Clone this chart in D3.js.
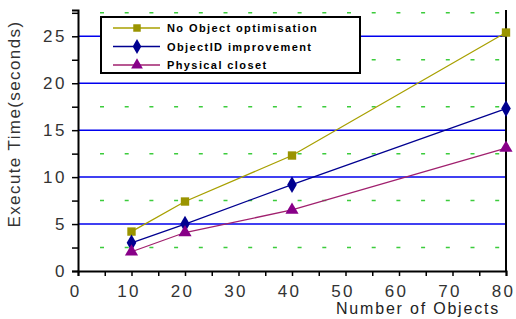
<!DOCTYPE html>
<html>
<head>
<meta charset="utf-8">
<script src="https://cdn.jsdelivr.net/npm/d3@7"></script>
<style>
  body { margin: 0; background: #fff; }
  svg { display: block; font-family: Arial, "Liberation Sans", sans-serif; }
</style>
</head>
<body>
<div id="chart-area"></div>
<script>
// data
const objects = [10, 20, 40, 80]
const noOpt = [4.2, 7.4, 12.3, 25.4]
const objectId = [3.0, 5.0, 9.2, 17.3]
const physical = [2.05, 4.1, 6.5, 13.1]
const seriesNames = ["No Object optimisation", "ObjectID improvement", "Physical closet"]
const xTicks = [0, 10, 20, 30, 40, 50, 60, 70, 80]
const yTicks = [0, 5, 10, 15, 20, 25]

const W = 516, H = 319
const LEFT = 78, RIGHT = 506, TOP = 10, BOTTOM = 271

const svg = d3.select("#chart-area").append("svg")
  .attr("width", W)
  .attr("height", H)

const x = d3.scaleLinear().domain([0, 80]).range([LEFT, RIGHT])
const y = d3.scaleLinear().domain([0, 27.8]).range([BOTTOM, TOP])

// green dashed grid (half steps)
const halfSteps = d3.range(2.5, 28, 5)
svg.append("g").selectAll("line")
  .data(halfSteps)
  .enter().append("line")
  .attr("x1", LEFT + 22).attr("x2", RIGHT)
  .attr("y1", d => y(d)).attr("y2", d => y(d))
  .attr("stroke", "#3ccc3c")
  .attr("stroke-width", 1.5)
  .attr("stroke-dasharray", "4 20.7")

// blue solid grid
svg.append("g").selectAll("line")
  .data(yTicks.slice(1))
  .enter().append("line")
  .attr("x1", LEFT).attr("x2", RIGHT)
  .attr("y1", d => y(d)).attr("y2", d => y(d))
  .attr("stroke", "#0000ee")
  .attr("stroke-width", 1.5)

// x axis
const xAxis = d3.axisBottom(x)
  .tickValues(d3.range(0, 81, 5))
  .tickSize(5)
  .tickFormat(d => xTicks.includes(d) ? d : "")
const gx = svg.append("g")
  .attr("transform", `translate(0, ${BOTTOM})`)
  .call(xAxis)
gx.select(".domain").attr("stroke", "#000").attr("stroke-width", 2)
gx.selectAll(".tick line").attr("stroke", "#000").attr("stroke-width", 1.5)
gx.selectAll("text")
  .attr("font-size", "17px")
  .attr("fill", "#333")
  .attr("letter-spacing", "2.2px")
  .attr("dx", "-3")
  .attr("dy", "1.05em")

// y axis
const yAxis = d3.axisLeft(y)
  .tickValues(d3.range(0, 28, 2.5))
  .tickSize(6)
  .tickFormat(d => yTicks.includes(d) ? d : "")
const gy = svg.append("g")
  .attr("transform", `translate(${LEFT}, 0)`)
  .call(yAxis)
gy.select(".domain").attr("stroke", "#000").attr("stroke-width", 2)
gy.selectAll(".tick line").attr("stroke", "#000").attr("stroke-width", 1.5)
gy.selectAll("text")
  .attr("font-size", "17px")
  .attr("fill", "#333")
  .attr("letter-spacing", "2.5px")
  .attr("x", -11)

// right frame line
svg.append("line")
  .attr("x1", RIGHT).attr("x2", RIGHT)
  .attr("y1", TOP).attr("y2", BOTTOM)
  .attr("stroke", "#000").attr("stroke-width", 2)

// axis labels
svg.append("text")
  .attr("x", 500)
  .attr("y", 314)
  .attr("text-anchor", "end")
  .attr("font-size", "16px")
  .attr("letter-spacing", "1.8px")
  .attr("fill", "#222")
  .text("Number of Objects")

svg.append("text")
  .attr("transform", "translate(20, 124) rotate(-90)")
  .attr("text-anchor", "middle")
  .attr("font-size", "17px")
  .attr("letter-spacing", "1.4px")
  .attr("fill", "#333")
  .text("Execute Time(seconds)")

// series
const series = [
  { name: seriesNames[0], values: noOpt, line: "#a8a000", mark: "#9a9400", sym: d3.symbolSquare, size: 70 },
  { name: seriesNames[1], values: objectId, line: "#000090", mark: "#000090", sym: d3.symbolDiamond, size: 80 },
  { name: seriesNames[2], values: physical, line: "#a0206e", mark: "#880088", sym: d3.symbolTriangle, size: 75 }
]

const line = d3.line()
  .x((d, i) => x(objects[i]))
  .y(d => y(d))

series.forEach(s => {
  svg.append("path")
    .attr("d", line(s.values))
    .attr("fill", "none")
    .attr("stroke", s.line)
    .attr("stroke-width", 1.3)

  svg.append("g").selectAll("path")
    .data(s.values)
    .enter().append("path")
    .attr("d", d3.symbol().type(s.sym).size(s.size))
    .attr("transform", (d, i) => `translate(${x(objects[i])}, ${y(d)})`)
    .attr("fill", s.mark)
})

// legend
const legend = svg.append("g")
legend.append("rect")
  .attr("x", 101).attr("y", 17)
  .attr("width", 259).attr("height", 56)
  .attr("fill", "#fff")
  .attr("stroke", "#000")
  .attr("stroke-width", 2)

series.forEach((s, i) => {
  const ly = 28 + i * 18.5
  legend.append("line")
    .attr("x1", 113).attr("x2", 160)
    .attr("y1", ly).attr("y2", ly)
    .attr("stroke", s.line)
    .attr("stroke-width", 1.3)
  legend.append("path")
    .attr("d", d3.symbol().type(s.sym).size(s.size * 0.8))
    .attr("transform", `translate(137, ${ly})`)
    .attr("fill", s.mark)
  legend.append("text")
    .attr("x", 167)
    .attr("y", ly + 4)
    .attr("font-size", "11px")
    .attr("font-weight", "bold")
    .attr("letter-spacing", "1.4px")
    .attr("fill", "#000")
    .text(s.name)
})
</script>
</body>
</html>
